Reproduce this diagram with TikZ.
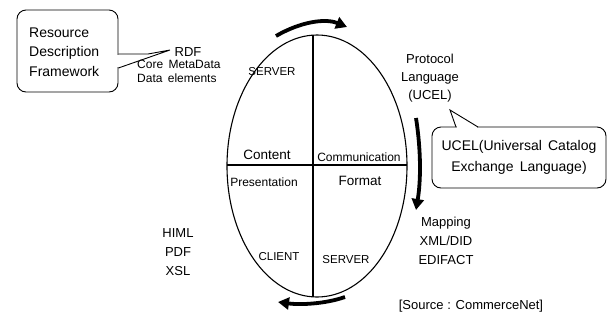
\documentclass[tikz,border=0pt]{standalone}
\usepackage{fontspec}
\setmainfont{Liberation Sans}
\usetikzlibrary{arrows.meta}
\begin{document}
\begin{tikzpicture}[x=1pt,y=-1pt,
  txt/.style={inner sep=0pt, align=center, font=\fontsize{13}{19}\selectfont},
  small/.style={inner sep=0pt, font=\fontsize{11.5}{14}\selectfont},
  mid/.style={inner sep=0pt, font=\fontsize{12}{14}\selectfont},
  big/.style={inner sep=0pt, font=\fontsize{13.5}{16}\selectfont},
  bigarrow/.style={line width=3.8pt, -{Triangle[length=11pt,width=12pt]}},
  calloutbox/.style={draw, line width=0.9pt, rounded corners=9pt, inner sep=0pt},
  thin/.style={line width=1.1pt}]
\useasboundingbox (0,0) rectangle (611,325);
% main oval
\coordinate (oc) at (317,166);
\draw[thin] (oc) ellipse [x radius=90pt, y radius=131pt];
\coordinate (vt) at (313,35.1);
\coordinate (vb) at (313,296.9);
\coordinate (hl) at (227,165);
\coordinate (hr) at (407,165);
\draw[thin] (vt) -- (vb);
\draw[thin] (hl) -- (hr);
% quadrant labels
\node[small] (server1) at (272,72) {SERVER};
\node[big] (content) at (267,155) {Content};
\node[mid] (comm) at (359,157) {Communication};
\node[mid] (pres) at (264,182) {Presentation};
\node[big] (format) at (360,181) {Format};
\node[small] (client) at (279,257) {CLIENT};
\node[small] (server2) at (346,260) {SERVER};
% arrows
\coordinate (a1s) at (276,36);
\coordinate (a1e) at (347,27);
\draw[bigarrow] (a1s) .. controls (300,22) and (325,18) .. (a1e);
\coordinate (a2s) at (416,118);
\coordinate (a2e) at (416,210);
\draw[bigarrow] (a2s) .. controls (421,150) and (421,180) .. (a2e);
\coordinate (a3s) at (345,297);
\coordinate (a3e) at (278,302);
\draw[bigarrow] (a3s) .. controls (325,304) and (300,305) .. (a3e);
% outer texts
\node[txt] (rdf) at (188,52) {RDF};
\node[inner sep=0pt, align=left, anchor=west, font=\fontsize{12}{14}\selectfont] (core) at (137,71) {Core\, MetaData\\Data\, elements};
\node[txt] (hpx) at (178,252) {HIML\\PDF\\XSL};
\node[txt, font=\fontsize{13}{18}\selectfont] (proto) at (430,78) {Protocol\\Language\\(UCEL)};
\node[txt] (map) at (446,241) {Mapping\\XML/DID\\EDIFACT};
\node[txt] (src) at (471,306) {[Source : CommerceNet]};
% RDF callout
\node[calloutbox, minimum width=101pt, minimum height=82pt] (rdfbox) at (67.5,51) {};
\fill[white] (117,55) rectangle (119.5,67);
\coordinate (p1a) at (118.4,54);
\coordinate (p1b) at (148,54);
\coordinate (p1t) at (170,50);
\coordinate (p1c) at (118.4,68);
\draw[line width=0.9pt] (p1a) -- (p1b) -- (p1t) -- (p1c);
\node[txt, align=left, anchor=west, font=\fontsize{14}{19.5}\selectfont] (res) at (29,52) {Resource\\Description\\Framework};
% UCEL callout
\node[calloutbox, minimum width=174pt, minimum height=61pt] (ucelbox) at (519,157.5) {};
\fill[white] (457,126) rectangle (477,128.5);
\coordinate (p2a) at (456,127);
\coordinate (p2t) at (450,110);
\coordinate (p2b) at (478,127);
\draw[line width=0.9pt] (p2a) -- (p2t) -- (p2b);
\node[txt, font=\fontsize{14}{21}\selectfont] (ucel) at (519,157) {UCEL(Universal\, Catalog\\Exchange\, Language)};
\end{tikzpicture}
\end{document}
